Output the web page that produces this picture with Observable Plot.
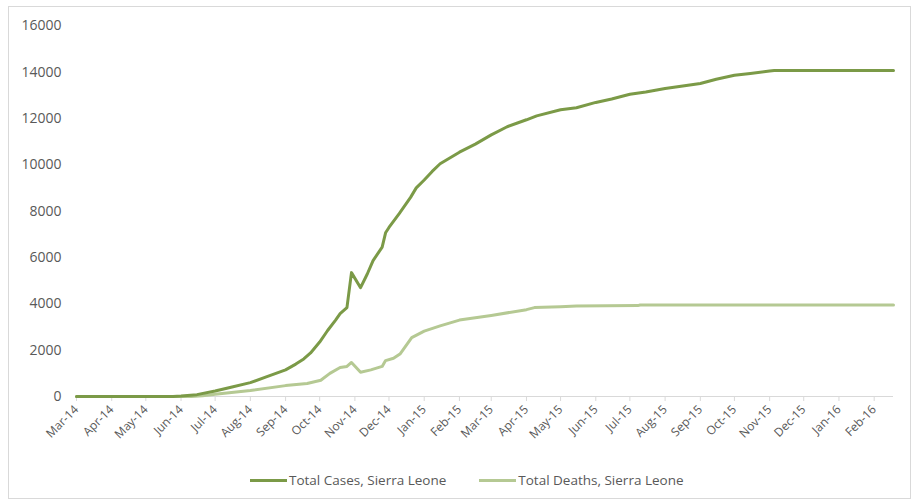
<!DOCTYPE html>
<html>
<head>
<meta charset="utf-8">
<script src="https://cdn.jsdelivr.net/npm/d3@7"></script>
<script src="https://cdn.jsdelivr.net/npm/@observablehq/plot@0.6"></script>
<style>
  html, body { margin: 0; padding: 0; background: #fff; }
  #wrap { position: relative; width: 913px; height: 502px; overflow: hidden; font-family: "Open Sans", sans-serif; }
  #frame { position: absolute; left: 8px; top: 6px; width: 901px; height: 491px; border: 1px solid #D9D9D9; pointer-events: none; }
  #legend { position: absolute; left: 250px; top: 471px; display: flex; align-items: center; font-size: 13.5px; color: #595959; }
  .item { display: flex; align-items: center; margin-right: 33px; }
  .sw { width: 37px; height: 3px; margin-right: 2px; }
</style>
</head>
<body>
<div id="wrap">
  <div id="chart"></div>
  <div id="frame"></div>
  <div id="legend"></div>
</div>
<script>
// Cumulative Ebola counts, Sierra Leone
const caseDates = ["2014-03-01","2014-05-25","2014-06-01","2014-06-15","2014-07-01","2014-07-15","2014-08-01","2014-08-15","2014-09-01","2014-09-10","2014-09-17","2014-09-23","2014-10-01","2014-10-08","2014-10-15","2014-10-19","2014-10-25","2014-10-29","2014-11-06","2014-11-12","2014-11-17","2014-11-25","2014-11-28","2014-12-01","2014-12-10","2014-12-20","2014-12-25","2015-01-01","2015-01-08","2015-01-15","2015-02-01","2015-02-15","2015-03-01","2015-03-15","2015-04-01","2015-04-10","2015-05-01","2015-05-15","2015-06-01","2015-06-15","2015-07-01","2015-07-15","2015-08-01","2015-08-15","2015-09-01","2015-09-15","2015-10-01","2015-10-15","2015-11-01","2015-11-05","2016-02-18"];
const caseValues = [0,0,20,80,240,400,600,850,1150,1400,1620,1880,2350,2850,3300,3580,3840,5350,4700,5300,5870,6450,7070,7300,7900,8600,9010,9350,9720,10050,10550,10900,11300,11650,11950,12120,12380,12470,12700,12850,13050,13150,13300,13400,13520,13700,13870,13950,14060,14080,14080];

const deathDates = ["2014-03-01","2014-06-10","2014-06-20","2014-07-01","2014-08-01","2014-09-01","2014-09-20","2014-10-02","2014-10-10","2014-10-19","2014-10-25","2014-10-29","2014-11-06","2014-11-15","2014-11-25","2014-11-28","2014-12-05","2014-12-11","2014-12-21","2015-01-01","2015-01-15","2015-02-01","2015-03-01","2015-04-01","2015-04-08","2015-05-01","2015-05-15","2015-07-08","2015-07-10","2016-02-18"];
const deathValues = [0,0,30,100,260,470,560,700,1000,1250,1300,1470,1050,1150,1300,1550,1650,1850,2540,2820,3050,3300,3500,3750,3840,3880,3910,3925,3950,3955];

const seriesNames = ["Total Cases, Sierra Leone", "Total Deaths, Sierra Leone"];
const seriesColors = ["#7B9A47", "#B5C993"];
const yTicks = [0, 2000, 4000, 6000, 8000, 10000, 12000, 14000, 16000];

const parse = d3.utcParse("%Y-%m-%d");
const cases = caseDates.map((d, i) => ({date: parse(d), value: caseValues[i]}));
const deaths = deathDates.map((d, i) => ({date: parse(d), value: deathValues[i]}));
const monthTicks = d3.utcMonths(parse("2014-03-01"), parse("2016-02-02"));

const chart = Plot.plot({
  width: 913,
  height: 460,
  marginLeft: 76,
  marginRight: 20,
  marginTop: 25.5,
  marginBottom: 64,
  style: {fontFamily: "Open Sans, sans-serif", background: "transparent"},
  x: {type: "utc", domain: [parse("2014-03-01"), parse("2016-02-18")]},
  y: {domain: [0, 16000]},
  marks: [
    Plot.ruleY([0], {stroke: "#D9D9D9", strokeWidth: 1}),
    Plot.axisY({ticks: yTicks, tickSize: 0, tickPadding: 15, tickFormat: d3.format("d"), fontSize: 14, fill: "#595959", label: null}),
    Plot.axisX({ticks: monthTicks, tickSize: 5, tickPadding: 6, tickRotate: -45, tickFormat: d3.utcFormat("%b-%y"), fontSize: 12, stroke: "#D9D9D9", fill: "#595959", label: null}),
    Plot.line(deaths, {x: "date", y: "value", stroke: seriesColors[1], strokeWidth: 3, strokeLinejoin: "round"}),
    Plot.line(cases, {x: "date", y: "value", stroke: seriesColors[0], strokeWidth: 3, strokeLinejoin: "round"})
  ]
});
document.getElementById("chart").appendChild(chart);

const legend = document.getElementById("legend");
seriesNames.forEach((name, i) => {
  const item = document.createElement("div");
  item.className = "item";
  const sw = document.createElement("span");
  sw.className = "sw";
  sw.style.background = seriesColors[i];
  const label = document.createElement("span");
  label.textContent = name;
  item.appendChild(sw);
  item.appendChild(label);
  legend.appendChild(item);
});
</script>
</body>
</html>
